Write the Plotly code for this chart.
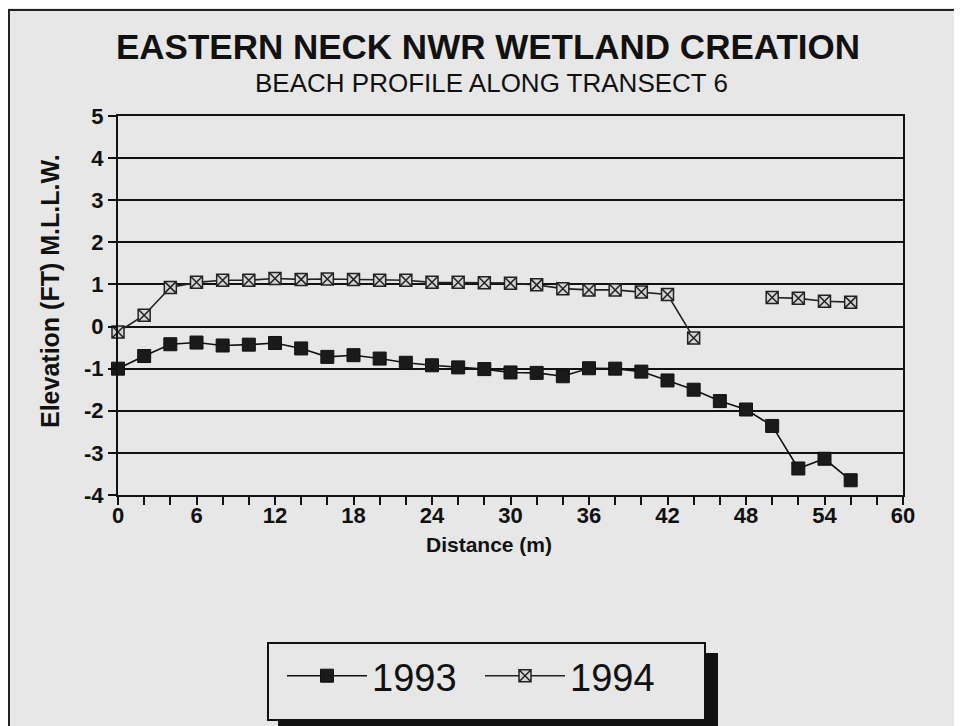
import plotly.graph_objects as go

distance = [0, 2, 4, 6, 8, 10, 12, 14, 16, 18, 20, 22, 24, 26, 28, 30, 32, 34, 36, 38,
            40, 42, 44, 46, 48, 50, 52, 54, 56]
elev_1993 = [-1.00, -0.70, -0.42, -0.38, -0.45, -0.43, -0.39, -0.52, -0.72, -0.68,
             -0.76, -0.86, -0.92, -0.97, -1.01, -1.09, -1.10, -1.18, -0.99, -1.00,
             -1.07, -1.28, -1.50, -1.77, -1.97, -2.36, -3.37, -3.14, -3.65]
elev_1994 = [-0.13, 0.27, 0.93, 1.05, 1.10, 1.10, 1.14, 1.12, 1.13, 1.12,
             1.10, 1.10, 1.05, 1.05, 1.04, 1.03, 0.99, 0.90, 0.87, 0.87,
             0.82, 0.76, -0.27, None, None, 0.69, 0.67, 0.60, 0.58]
x_ticks = [0, 6, 12, 18, 24, 30, 36, 42, 48, 54, 60]
y_ticks = [-4, -3, -2, -1, 0, 1, 2, 3, 4, 5]

BG = "#e7e7e7"
INK = "#111111"
FONT = "Liberation Sans, Arial, Helvetica, sans-serif"

W, H = 962, 726
OFF = 8  # page body margin
# plot-area edges in page pixels
L, R, T, B = 118 - OFF, 903 - OFF, 116 - OFF, 495 - OFF


def px(x):
    """page x pixel -> paper x"""
    return (x - OFF - L) / (R - L)


def py(y):
    """page y pixel -> paper y"""
    return (B - (y - OFF)) / (B - T)


fig = go.Figure()
fig.add_trace(go.Scatter(
    x=distance, y=elev_1993, name="1993", mode="lines+markers",
    line=dict(color=INK, width=1.6),
    marker=dict(symbol="square", size=13, color="#1a1a1a", line=dict(color=INK, width=1)),
    cliponaxis=False,
))
fig.add_trace(go.Scatter(
    x=distance, y=elev_1994, name="1994", mode="lines+markers",
    line=dict(color="#222222", width=1.6), connectgaps=False,
    marker=dict(symbol="square-x", size=12, color="#d4d4d4", line=dict(color="#222222", width=1.5)),
    cliponaxis=False,
))

axis_font = dict(family=FONT, size=22, color=INK)
fig.update_xaxes(
    range=[0, 60], tickmode="array", tickvals=x_ticks, ticktext=[f"<b>{v}</b>" for v in x_ticks],
    ticks="outside", ticklen=8, tickwidth=2, tickcolor=INK, ticklabelstandoff=-8,
    minor=dict(dtick=2, tick0=0, ticks="outside", ticklen=8, tickwidth=2, tickcolor=INK, showgrid=False),
    showline=True, linewidth=2, linecolor=INK, mirror=True, showgrid=False, zeroline=False,
    tickfont=axis_font,
)
fig.update_yaxes(
    range=[-4, 5], tickmode="array", tickvals=y_ticks, ticktext=[f"<b>{v}</b>" for v in y_ticks],
    ticks="outside", ticklen=8, tickwidth=2, tickcolor=INK,
    showline=True, linewidth=2, linecolor=INK, mirror=True,
    showgrid=True, gridcolor=INK, gridwidth=2, zeroline=False,
    tickfont=axis_font,
)

annotations = [
    dict(text="<b>EASTERN NECK NWR WETLAND CREATION</b>", x=px(488), y=py(46),
         font=dict(family=FONT, size=35, color=INK)),
    dict(text="BEACH PROFILE ALONG TRANSECT 6", x=px(491), y=py(83),
         font=dict(family=FONT, size=26, color=INK)),
    dict(text="<b>Elevation (FT) M.L.L.W.</b>", x=px(50), y=py(291), textangle=-90,
         font=dict(family=FONT, size=25, color=INK)),
    dict(text="<b>Distance (m)</b>", x=px(489), y=py(544),
         font=dict(family=FONT, size=21, color=INK)),
]
for a in annotations:
    a.update(xref="paper", yref="paper", showarrow=False, xanchor="center", yanchor="middle")

shapes = [
    # outer frame (left and top edges)
    dict(type="line", xref="paper", yref="paper", x0=px(9), x1=px(9), y0=py(740), y1=py(10),
         line=dict(color="#222", width=2)),
    dict(type="line", xref="paper", yref="paper", x0=px(8), x1=px(975), y0=py(10), y1=py(10),
         line=dict(color="#222", width=2)),
    # legend drop shadow and box
    dict(type="rect", xref="paper", yref="paper", x0=px(278), x1=px(718), y0=py(740), y1=py(653),
         fillcolor=INK, line=dict(width=0)),
    dict(type="rect", xref="paper", yref="paper", x0=px(268), x1=px(705), y0=py(720), y1=py(643),
         fillcolor=BG, line=dict(color=INK, width=2)),
]

fig.update_layout(
    width=W, height=H,
    margin=dict(l=L, r=W - R, t=T, b=H - B),
    paper_bgcolor=BG, plot_bgcolor=BG,
    font=dict(family=FONT, color=INK),
    showlegend=True,
    legend=dict(
        orientation="h", x=px(282), y=py(676), xanchor="left", yanchor="middle",
        font=dict(family=FONT, size=38, color=INK),
        bgcolor="rgba(0,0,0,0)", borderwidth=0,
        itemwidth=80, entrywidth=103,
    ),
    annotations=annotations,
    shapes=shapes,
)

fig.write_html("out.html")
